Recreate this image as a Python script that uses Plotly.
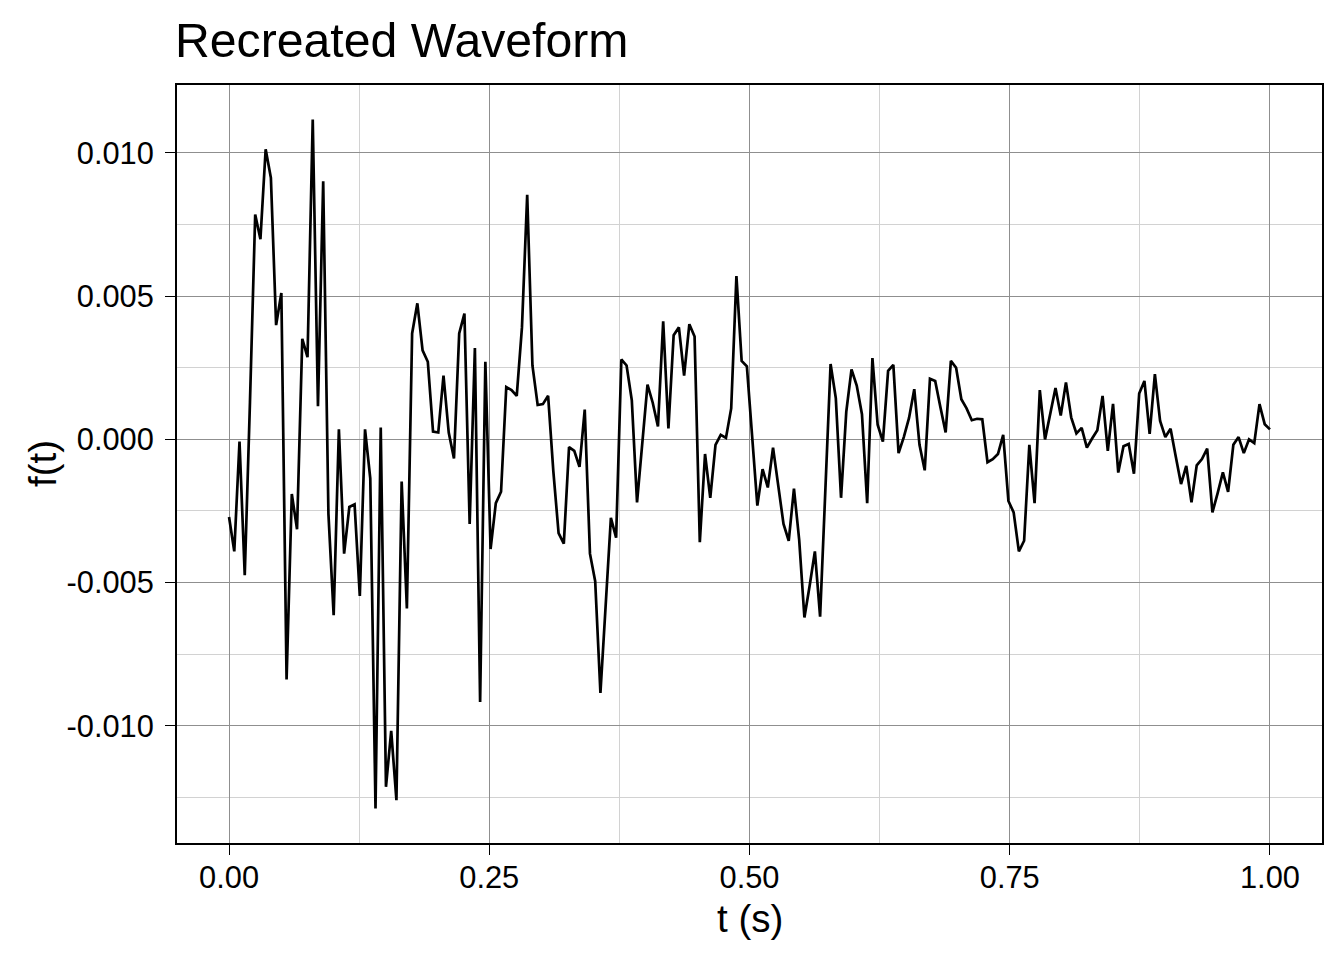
import numpy as np
import plotly.graph_objects as go

# Waveform samples (200 evenly spaced samples over 0..1 s)
f_values = [
    -0.00271, -0.00391, -0.00008, -0.00474, 0.00130, 0.00785, 0.00699, 0.01013, 0.00913, 0.00399,
    0.00511, -0.00838, -0.00191, -0.00314, 0.00351, 0.00287, 0.01117, 0.00116, 0.00901, -0.00260,
    -0.00614, 0.00035, -0.00399, -0.00236, -0.00227, -0.00547, 0.00035, -0.00136, -0.01289, 0.00041,
    -0.01213, -0.01018, -0.01260, -0.00147, -0.00590, 0.00370, 0.00475, 0.00311, 0.00271, 0.00027,
    0.00024, 0.00223, 0.00024, -0.00067, 0.00370, 0.00439, -0.00295, 0.00319, -0.00917, 0.00271,
    -0.00383, -0.00223, -0.00183, 0.00183, 0.00172, 0.00152, 0.00391, 0.00854, 0.00258, 0.00120,
    0.00123, 0.00152, -0.00112, -0.00327, -0.00364, -0.00027, -0.00040, -0.00096, 0.00104, -0.00399,
    -0.00495, -0.00885, -0.00580, -0.00274, -0.00343, 0.00279, 0.00258, 0.00136, -0.00220, -0.00020,
    0.00191, 0.00128, 0.00045, 0.00412, 0.00038, 0.00364, 0.00391, 0.00223, 0.00402, 0.00359,
    -0.00359, -0.00051, -0.00204, -0.00019, 0.00016, 0.00005, 0.00108, 0.00570, 0.00274, 0.00255,
    0.00010, -0.00231, -0.00104, -0.00168, -0.00029, -0.00160, -0.00295, -0.00354, -0.00172, -0.00351,
    -0.00622, -0.00511, -0.00391, -0.00619, -0.00180, 0.00263, 0.00144, -0.00204, 0.00096, 0.00244,
    0.00188, 0.00088, -0.00223, 0.00284, 0.00051, -0.00008, 0.00239, 0.00260, -0.00048, 0.00008,
    0.00075, 0.00175, -0.00019, -0.00108, 0.00212, 0.00204, 0.00112, 0.00024, 0.00274, 0.00250,
    0.00140, 0.00108, 0.00067, 0.00072, 0.00070, -0.00080, -0.00069, -0.00051, 0.00016, -0.00215,
    -0.00255, -0.00391, -0.00354, -0.00019, -0.00223, 0.00172, 0.00000, 0.00096, 0.00179, 0.00083,
    0.00199, 0.00077, 0.00021, 0.00040, -0.00029, 0.00003, 0.00032, 0.00152, -0.00040, 0.00124,
    -0.00116, -0.00024, -0.00016, -0.00120, 0.00160, 0.00204, 0.00019, 0.00228, 0.00064, 0.00008,
    0.00037, -0.00061, -0.00156, -0.00093, -0.00220, -0.00091, -0.00069, -0.00032, -0.00255, -0.00188,
    -0.00115, -0.00183, -0.00019, 0.00008, -0.00048, 0.00000, -0.00013, 0.00123, 0.00053, 0.00035,
]
t_values = np.linspace(0.0, 1.0, len(f_values))

x_tickvals = [0.0, 0.25, 0.5, 0.75, 1.0]
x_ticktext = ["0.00", "0.25", "0.50", "0.75", "1.00"]
y_tickvals = [-0.010, -0.005, 0.0, 0.005, 0.010]
y_ticktext = ["-0.010", "-0.005", "0.000", "0.005", "0.010"]

title_text = "Recreated Waveform"
x_title = "t (s)"
y_title = "f(t)"

FONT = "Liberation Sans, Arial, Helvetica, sans-serif"
MAJOR = "#8f8f8f"
MINOR = "#d2d2d2"

fig = go.Figure()
fig.add_trace(go.Scatter(x=t_values, y=f_values, mode="lines",
                         line=dict(color="black", width=2.7), showlegend=False))

ymin, ymax = min(f_values), max(f_values)
pad = 0.05 * (ymax - ymin)

axis_common = dict(
    showline=True, mirror=True, linecolor="black", linewidth=2,
    ticks="outside", ticklen=10, tickwidth=1.3, tickcolor="black",
    showgrid=True, gridcolor=MAJOR, gridwidth=1, zeroline=False,
    tickfont=dict(family=FONT, size=30.8, color="black"),
)

fig.update_xaxes(range=[-0.05, 1.05], tickmode="array", tickvals=x_tickvals, ticktext=x_ticktext,
                 minor=dict(tick0=0, dtick=0.125, showgrid=True, gridcolor=MINOR, gridwidth=1, ticks=""),
                 ticklabelstandoff=-4, **axis_common)
fig.update_yaxes(range=[ymin - pad, ymax + pad], tickmode="array", tickvals=y_tickvals, ticktext=y_ticktext,
                 minor=dict(tick0=0, dtick=0.0025, showgrid=True, gridcolor=MINOR, gridwidth=1, ticks=""),
                 ticklabelstandoff=5, **axis_common)

fig.update_layout(
    width=1344, height=960,
    margin=dict(l=177, r=22, t=85, b=117, autoexpand=False),
    paper_bgcolor="white", plot_bgcolor="white",
    font=dict(family=FONT, color="black"),
    annotations=[
        dict(text=title_text, xref="paper", yref="paper", x=0, y=1, xanchor="left", yanchor="top",
             xshift=-4, yshift=74, showarrow=False, font=dict(family=FONT, size=48.2, color="black")),
        dict(text=x_title, xref="paper", yref="paper", x=0.5, y=0, xanchor="center", yanchor="top",
             yshift=-52, showarrow=False, font=dict(family=FONT, size=38.5, color="black")),
        dict(text=y_title, xref="paper", yref="paper", x=0, y=0.5, xanchor="center", yanchor="middle",
             xshift=-135, textangle=-90, showarrow=False, font=dict(family=FONT, size=38.5, color="black")),
    ],
)

fig.write_html("out.html", config={"displayModeBar": False},
               post_script="document.body.style.margin='0';document.body.style.overflow='hidden';")
